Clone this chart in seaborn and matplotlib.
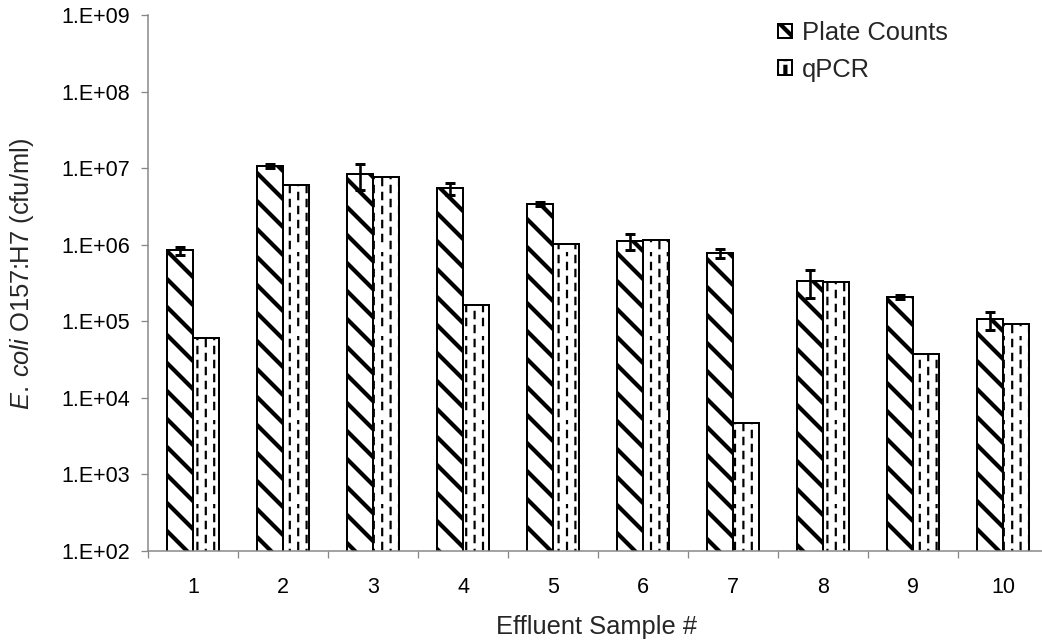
import numpy as np
import pandas as pd
import matplotlib
matplotlib.use("Agg")
import matplotlib.pyplot as plt
import matplotlib.hatch as mhatch
from matplotlib.path import Path
from matplotlib.ticker import FixedLocator, FuncFormatter, NullLocator
import seaborn as sns

# ---- data -------------------------------------------------------------
samples = ["1", "2", "3", "4", "5", "6", "7", "8", "9", "10"]
plate_counts = [8.45e5, 1.06e7, 8.3e6, 5.45e6, 3.43e6, 1.12e6, 7.72e5, 3.36e5, 2.08e5, 1.06e5]
plate_err = [1.0e5, 0.6e6, 3.1e6, 1.0e6, 0.2e6, 0.27e6, 1.1e5, 1.36e5, 1.0e4, 0.28e5]
qpcr_counts = [6.0e4, 6.02e6, 7.66e6, 1.65e5, 1.01e6, 1.14e6, 4.65e3, 3.29e5, 3.74e4, 9.12e4]
series_names = ["Plate Counts", "qPCR"]
y_exponents = list(range(2, 10))

# ---- sizing helpers ---------------------------------------------------
DPI = 84
W_PX, H_PX = 1042, 643


def px(p):
    """pixels -> points at the figure dpi"""
    return p * 72.0 / DPI


# ---- staggered dashed vertical hatch used for the qPCR bars ('|') ----
class DashedVerticalHatch(mhatch.HatchPatternBase):
    dashes_per_col = 6
    dash_len = 0.075

    def __init__(self, hatch, density):
        n = int(hatch.count("|") * density * 10 / 6)
        self.num_cols = n - (n % 2)
        self.num_vertices = self.num_cols * self.dashes_per_col * 2

    def set_vertices_and_codes(self, vertices, codes):
        xs, xstep = np.linspace(0.0, 1.0, self.num_cols, False, retstep=True)
        xs = xs + xstep / 2.0
        ys, ystep = np.linspace(0.0, 1.0, self.dashes_per_col, False, retstep=True)
        ys = ys + (ystep - self.dash_len) / 2.0
        gx, gy = np.meshgrid(xs, ys, indexing="ij")
        # every other column is shifted by half a dash period
        gy = gy + (np.arange(self.num_cols)[:, None] % 2) * ystep / 2.0
        gx, gy = gx.ravel(), gy.ravel()
        vertices[0::2, 0] = gx
        vertices[0::2, 1] = gy
        vertices[1::2, 0] = gx
        vertices[1::2, 1] = gy + self.dash_len
        codes[0::2] = Path.MOVETO
        codes[1::2] = Path.LINETO


mhatch._hatch_types[:] = [DashedVerticalHatch if t is mhatch.VerticalHatch else t
                          for t in mhatch._hatch_types]

# ---- style -------------------------------------------------------------
sns.set_style("ticks")
FONT = "Liberation Sans"
plt.rcParams["font.family"] = [FONT, "DejaVu Sans"]
plt.rcParams["mathtext.fontset"] = "custom"
plt.rcParams["mathtext.rm"] = FONT
plt.rcParams["mathtext.it"] = FONT + ":italic"
FS_TICK = px(21.5)
FS_TITLE = px(25.5)
AXIS_GRAY = "#878787"

df = pd.DataFrame({
    "sample": samples * 2,
    "count": plate_counts + qpcr_counts,
    "method": [series_names[0]] * len(samples) + [series_names[1]] * len(samples),
})

fig = plt.figure(figsize=(W_PX / DPI, H_PX / DPI), dpi=DPI)
ax = fig.add_axes([148 / W_PX, 1 - 551 / H_PX, 900 / W_PX, (551 - 15) / H_PX])

plt.rcParams["hatch.linewidth"] = px(4.2)
sns.barplot(data=df, x="sample", y="count", hue="method", order=samples,
            hue_order=series_names, palette=["white", "white"], saturation=1,
            edgecolor="black", linewidth=px(2.0), width=0.578, gap=0,
            errorbar=None, legend=False, log_scale=True, ax=ax)

plate_bars, qpcr_bars = ax.containers[0], ax.containers[1]
for bar in plate_bars:
    bar.set_hatch("\\")
    if hasattr(bar, "set_hatch_linewidth"):
        bar.set_hatch_linewidth(px(4.2))
    if hasattr(bar, "set_hatchcolor"):
        bar.set_hatchcolor("black")
for bar in qpcr_bars:
    bar.set_hatch("|")
    if hasattr(bar, "set_hatch_linewidth"):
        bar.set_hatch_linewidth(px(2.2))
    if hasattr(bar, "set_hatchcolor"):
        bar.set_hatchcolor("#3a3a3a")

# error bars on the plate-count bars
centers = [b.get_x() + b.get_width() / 2 for b in plate_bars]
ax.errorbar(centers, plate_counts, yerr=plate_err, fmt="none", ecolor="black",
            elinewidth=px(2.6), capsize=px(4.8), capthick=px(3.0), zorder=5)

# ---- axes --------------------------------------------------------------
ax.set_yscale("log")
ax.set_ylim(10.0 ** y_exponents[0], 10.0 ** y_exponents[-1])
ax.set_xlim(-0.5, len(samples) - 0.5)
ax.yaxis.set_major_locator(FixedLocator([10.0 ** e for e in y_exponents]))
ax.yaxis.set_major_formatter(FuncFormatter(lambda v, p: f"1.E+{int(round(np.log10(v))):02d}"))
ax.yaxis.set_minor_locator(NullLocator())
ax.tick_params(axis="y", which="major", direction="out", length=px(7), width=px(1.3),
               color=AXIS_GRAY, pad=px(11), labelsize=FS_TICK, labelcolor="black")

ax.set_xticks(range(len(samples)))
ax.set_xticklabels(samples)
ax.xaxis.set_minor_locator(FixedLocator(np.arange(-0.5, len(samples), 1.0)))
ax.tick_params(axis="x", which="major", length=0, pad=px(26), labelsize=FS_TICK,
               labelcolor="black")
ax.tick_params(axis="x", which="minor", direction="out", length=px(7), width=px(1.3),
               color=AXIS_GRAY)

for side in ("top", "right"):
    ax.spines[side].set_visible(False)
for side in ("left", "bottom"):
    ax.spines[side].set_color(AXIS_GRAY)
    ax.spines[side].set_linewidth(px(1.5))

ax.set_xlabel("Effluent Sample #", fontsize=FS_TITLE)
ax.xaxis.set_label_coords(0.498, -0.119)
ax.set_ylabel(r"$\mathit{E.}\:\mathit{coli}$ O157:H7 (cfu/ml)", fontsize=FS_TITLE)
ax.yaxis.set_label_coords(-0.124, 0.516)

leg = ax.legend(handles=[plate_bars, qpcr_bars], labels=series_names,
                loc="upper left", bbox_to_anchor=(778 / W_PX, 1 - 21 / H_PX),
                bbox_transform=fig.transFigure, frameon=False, fontsize=FS_TITLE,
                borderpad=0, borderaxespad=0, handlelength=0.55, handleheight=0.52,
                handletextpad=0.38, labelspacing=0.5)

fig.savefig("out.png", dpi=DPI)
